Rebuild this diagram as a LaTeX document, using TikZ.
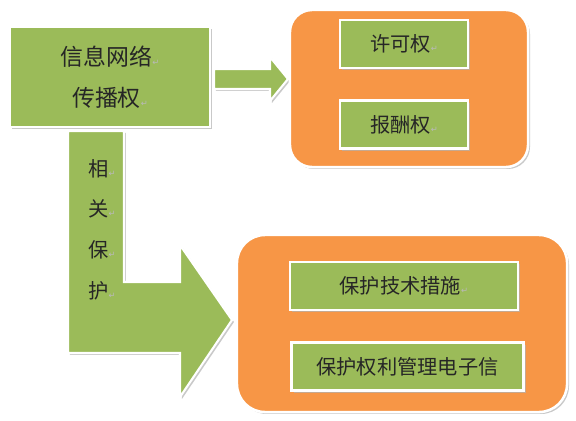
\documentclass[tikz,border=0pt]{standalone}
\usepackage{fontspec}
\usepackage{tikz}
\usetikzlibrary{
  positioning,
  shadows,
  backgrounds
}
\newfontfamily\cjk{Noto Sans CJK SC}
\newfontfamily\markfont{DejaVu Sans}
\definecolor{leafgreen}{HTML}{9BBB59}
\definecolor{copperorange}{HTML}{F79646}
\newcommand{\pmark}{{\markfont\fontsize{6pt}{6pt}\selectfont\color{gray!55}↵}}

\begin{document}
\begin{tikzpicture}[
    x=0.025cm, y=-0.025cm,
    node distance=0.75cm,
    % Styles
    greenbox/.style={
        rectangle,
        draw=white, line width=1.8pt,
        fill=leafgreen, text=black!85,
        font=\cjk\fontsize{14.4pt}{29pt}\selectfont,
        align=center, inner sep=0pt,
        drop shadow={shadow xshift=1.4pt, shadow yshift=-1.4pt, fill=gray!60, opacity=0.7}
    },
    orangebox/.style={
        rectangle, rounded corners=#1,
        draw=white, line width=1.8pt,
        fill=copperorange,
        drop shadow={shadow xshift=1.4pt, shadow yshift=-1.4pt, fill=gray!60, opacity=0.7}
    },
    blockarrow/.style={
        fill=leafgreen, draw=white, line width=1.5pt,
        drop shadow={shadow xshift=1.4pt, shadow yshift=-1.4pt, fill=gray!60, opacity=0.7}
    }
]
\useasboundingbox (0,0) rectangle (576,420);

% ── SOURCE RIGHT ──
\node[greenbox, minimum width=5cm, minimum height=2.5cm,
      font=\cjk\fontsize{16.3pt}{29pt}\selectfont] (info) at (110,77) {信息网络\pmark\\传播权\pmark};

% ── UPPER GROUP ──
\node[orangebox=0.55cm, minimum width=5.95cm, minimum height=3.925cm] (rightsbox) at (409,88.5) {};

\node[greenbox, minimum width=3.2cm, minimum height=1.2cm] (license) at (404,44) {许可权\pmark};
\node[greenbox, minimum width=3.2cm, minimum height=1.2cm, below=0.75cm of license] (reward) {报酬权\pmark};

% ── LOWER GROUP ──
\node[orangebox=0.7cm, minimum width=8.25cm, minimum height=4.425cm] (protectbox) at (402,323.5) {};

\node[greenbox, minimum width=5.7cm, minimum height=1.2cm] (measures) at (404,286) {保护技术措施\pmark};
\node[greenbox, minimum width=5.8cm, minimum height=1.2cm, below=0.75cm of measures, xshift=0.09cm] (rmi) {保护权利管理电子信};

% ── BLOCK ARROWS ──
\begin{scope}[on background layer]
\draw[blockarrow] (214,69) -- (270,69) -- (270,57) -- (288,79) -- (270,101) -- (270,89) -- (214,89) -- cycle;
\draw[blockarrow] (68,131) -- (124,131) -- (124,282) -- (180,282) -- (180,245) -- (232,320)
    -- (180,397) -- (180,353) -- (68,353) -- cycle;
\end{scope}

\node[font=\cjk\fontsize{14.4pt}{29pt}\selectfont, text=black!85, align=left, inner sep=0pt] (related) at (102,229.5)
    {相\pmark\\关\pmark\\保\pmark\\护\pmark};

\end{tikzpicture}
\end{document}
